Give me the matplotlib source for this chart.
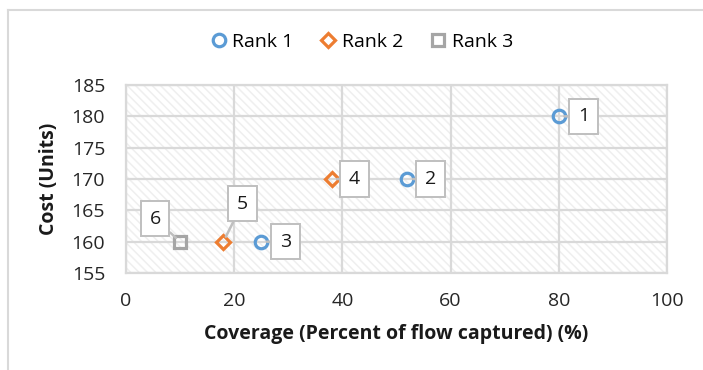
import matplotlib
matplotlib.use("Agg")
import matplotlib.pyplot as plt
from matplotlib.patches import Rectangle
from matplotlib.lines import Line2D

plt.rcParams['font.family'] = ['Open Sans', 'DejaVu Sans']
plt.rcParams['hatch.linewidth'] = 1.1

# Data: coverage (%) and cost (units) for each ranked option
rank1_coverage = [80, 52, 25]
rank1_cost = [180, 170, 160]
rank1_labels = ["1", "2", "3"]

rank2_coverage = [38, 18]
rank2_cost = [170, 160]
rank2_labels = ["4", "5"]

rank3_coverage = [10]
rank3_cost = [160]
rank3_labels = ["6"]

x_ticks = [0, 20, 40, 60, 80, 100]
y_ticks = [155, 160, 165, 170, 175, 180, 185]

c1, c2, c3 = '#5B9BD5', '#ED7D31', '#A5A5A5'
grid_c = '#D9D9D9'

fig = plt.figure(figsize=(7.03, 3.70), dpi=100)
ax = fig.add_axes([126/703, 1-273/370, (667-126)/703, (273-85)/370])

ax.set_xlim(0, 100)
ax.set_ylim(155, 185)
ax.set_xticks(x_ticks)
ax.set_yticks(y_ticks)

# hatched plot background
ax.add_patch(Rectangle((0, 0), 1, 1, transform=ax.transAxes, facecolor='white',
                       edgecolor='#EFEFEF', hatch='\\\\\\\\', lw=0, zorder=0))
ax.grid(True, color=grid_c, lw=1.6, zorder=1)
for s in ax.spines.values():
    s.set_color(grid_c)
    s.set_linewidth(1.6)
ax.tick_params(length=0, labelsize=14, colors='#262626')
ax.tick_params(axis='y', pad=15)
ax.tick_params(axis='x', pad=14)

mk = dict(linestyle='none', markerfacecolor='none', markeredgewidth=2.3, zorder=4)
ax.plot(rank1_coverage, rank1_cost, marker='o', markersize=9, markeredgecolor=c1, label='Rank 1', **mk)
ax.plot(rank2_coverage, rank2_cost, marker='D', markersize=7, markeredgecolor=c2, label='Rank 2', **mk)
ax.plot(rank3_coverage, rank3_cost, marker='s', markersize=8, markeredgecolor=c3, label='Rank 3', **mk)

# callout labels (offsets in pixels)
offsets = {"1": (25, 0), "2": (23, 0), "3": (24, 0), "4": (23, 0), "5": (19, 38), "6": (-25, 23)}
bbox = dict(boxstyle='square,pad=0.45', fc='white', ec='#BFBFBF', lw=1.4)
for xs, ys, labs in [(rank1_coverage, rank1_cost, rank1_labels),
                     (rank2_coverage, rank2_cost, rank2_labels),
                     (rank3_coverage, rank3_cost, rank3_labels)]:
    for x, y, lab in zip(xs, ys, labs):
        dx, dy = offsets[lab]
        ax.annotate(lab, (x, y), xytext=(dx * 0.72, dy * 0.72), textcoords='offset points',
                    ha='center', va='center', fontsize=14, color='#1a1a1a', bbox=bbox,
                    arrowprops=dict(arrowstyle='-', color='#BFBFBF', lw=1.8,
                                    shrinkA=0, shrinkB=4), zorder=5)

ax.set_xlabel('Coverage (Percent of flow captured) (%)', fontsize=14, fontweight='bold',
              color='#1a1a1a', labelpad=10)
ax.set_ylabel('Cost (Units)', fontsize=14, fontweight='bold', color='#1a1a1a', labelpad=9)

fig.legend(loc='center', bbox_to_anchor=(361/703, 1-42/370), ncol=3, frameon=False,
           fontsize=14, handletextpad=0.2, columnspacing=1.3, handlelength=1.0)

# outer chart border (left and top edges)
fig.add_artist(Line2D([8/703, 8/703], [0, 1-10/370], color='#D9D9D9', lw=1.5))
fig.add_artist(Line2D([8/703, 1], [1-10/370, 1-10/370], color='#D9D9D9', lw=1.5))

fig.savefig('out.png', dpi=100)
